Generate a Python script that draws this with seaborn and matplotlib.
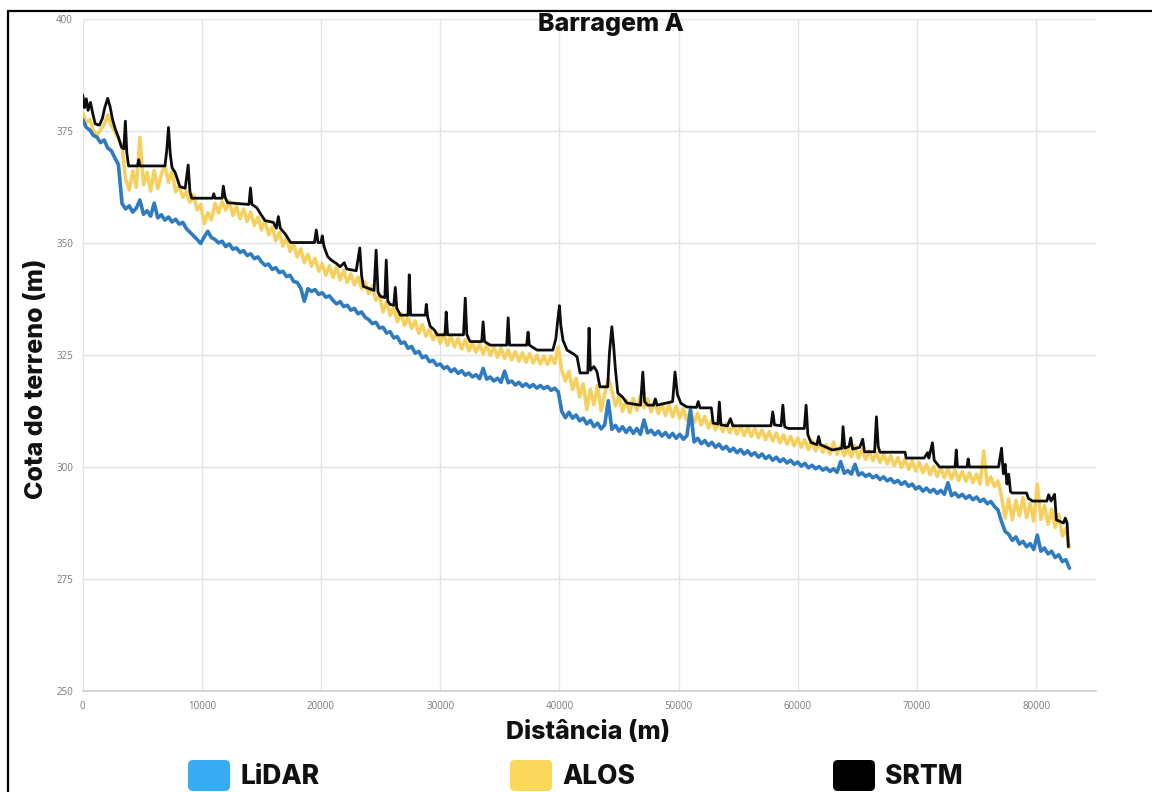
import numpy as np
import pandas as pd
import seaborn as sns
import matplotlib.pyplot as plt
from matplotlib.lines import Line2D
from matplotlib.patches import FancyBboxPatch
from matplotlib.transforms import IdentityTransform

# ---------------------------------------------------------------------------
# Elevation profiles along the reservoir (distance in m, elevation in m)
# LiDAR and ALOS are sampled every 300 m from 0 to 82 800 m
# ---------------------------------------------------------------------------
DIST_START, DIST_END, DIST_STEP = 0, 82800, 300

lidar = [
    377.5, 375.8, 375.2, 374.0, 373.6, 372.4, 373.0, 371.2, 370.6, 369.0,
    367.5, 358.8, 357.6, 358.3, 356.9, 357.8, 359.6, 356.4, 357.2, 356.0,
    358.9, 355.6, 356.3, 355.1, 355.8, 354.7, 355.3, 354.2, 354.6, 353.2,
    352.4, 351.6, 350.8, 349.9, 351.4, 352.6, 351.2, 350.8, 350.0, 350.4,
    349.2, 349.8, 348.6, 348.9, 347.9, 348.3, 347.2, 347.6, 346.5, 346.9,
    345.8, 345.0, 345.3, 344.1, 344.5, 343.4, 343.7, 342.5, 342.8, 341.4,
    341.2, 339.9, 337.0, 339.8, 339.2, 339.6, 338.5, 338.9, 337.9, 338.2,
    337.2, 336.4, 336.9, 335.8, 336.1, 335.0, 335.4, 334.2, 334.6, 333.4,
    332.9, 332.0, 332.3, 331.0, 331.2, 329.9, 330.2, 328.8, 329.1, 327.6,
    327.9, 326.5, 326.9, 325.4, 325.8, 324.4, 324.8, 323.5, 323.8, 322.7,
    323.0, 322.0, 322.4, 321.3, 321.9, 320.9, 321.5, 320.5, 321.0, 320.1,
    320.6, 319.7, 322.0, 319.6, 320.1, 319.2, 319.8, 318.9, 321.4, 318.8,
    319.2, 318.3, 318.9, 318.0, 318.6, 317.8, 318.4, 317.6, 318.2, 317.5,
    318.0, 317.1, 317.6, 316.8, 312.4, 311.0, 312.2, 310.9, 311.6, 310.3,
    310.9, 309.6, 310.4, 309.0, 309.8, 308.5, 309.4, 314.8, 308.4, 309.3,
    308.0, 309.0, 307.7, 308.8, 307.5, 308.6, 307.3, 310.5, 307.6, 308.2,
    307.2, 308.0, 306.9, 307.7, 306.6, 307.5, 306.4, 307.3, 306.2, 307.0,
    312.8, 305.6, 306.4, 305.2, 305.9, 304.8, 305.5, 304.4, 305.1, 304.0,
    304.6, 303.5, 304.2, 303.2, 303.9, 302.9, 303.6, 302.6, 303.2, 302.2,
    302.9, 301.9, 302.5, 301.5, 302.2, 301.2, 301.8, 300.9, 301.5, 300.6,
    301.1, 300.2, 300.8, 299.8, 300.4, 299.6, 300.1, 299.3, 299.8, 299.0,
    299.6, 298.8, 301.2, 298.6, 299.2, 298.4, 300.6, 298.2, 298.7, 297.9,
    298.4, 297.6, 298.1, 297.2, 297.8, 296.9, 297.4, 296.5, 297.0, 296.1,
    296.7, 295.7, 296.2, 295.1, 295.6, 294.6, 295.3, 294.4, 295.0, 294.1,
    294.8, 293.9, 296.5, 293.6, 294.2, 293.3, 293.9, 293.0, 293.6, 292.7,
    293.3, 292.3, 292.8, 291.8, 292.3, 291.2, 290.4, 287.8, 285.6, 285.0,
    283.6, 284.4, 282.8, 283.4, 282.2, 282.9, 281.6, 284.8, 281.2, 281.9,
    280.6, 281.2, 279.8, 280.4, 278.9, 279.3, 277.4,
]

alos = [
    379.2, 376.8, 377.6, 375.1, 374.0, 375.3, 376.4, 378.6, 376.2, 374.8,
    373.2, 371.5, 364.2, 361.8, 366.1, 362.4, 373.6, 363.0, 365.8, 361.6,
    366.2, 362.1, 365.4, 367.3, 363.5, 366.0, 361.4, 362.7, 360.2, 361.5,
    359.1, 360.8, 357.4, 358.6, 354.3, 356.8, 355.2, 358.9, 356.7, 359.2,
    357.3, 359.4, 356.1, 358.3, 355.4, 357.6, 354.8, 356.9, 353.9, 355.8,
    352.9, 355.1, 351.8, 353.6, 350.5, 352.4, 349.3, 351.2, 348.1, 349.9,
    346.9, 348.7, 345.6, 347.5, 344.8, 346.6, 343.7, 345.4, 342.8, 344.9,
    342.3, 344.6, 341.8, 343.9, 341.2, 343.1, 340.6, 342.4, 339.8, 341.3,
    338.7, 340.4, 337.2, 338.5, 334.6, 336.9, 333.8, 335.7, 332.4, 334.3,
    331.6, 333.5, 330.9, 332.6, 329.8, 331.8, 329.2, 330.7, 328.4, 330.1,
    327.6, 329.8, 327.1, 329.2, 326.8, 328.7, 326.3, 328.4, 325.9, 327.8,
    325.6, 327.5, 325.2, 327.3, 324.9, 326.8, 324.5, 326.6, 324.2, 326.1,
    323.9, 325.8, 323.6, 325.5, 323.4, 325.3, 323.2, 325.0, 323.0, 324.8,
    322.9, 324.7, 323.1, 326.8, 321.6, 319.2, 321.4, 317.3, 319.8, 315.6,
    318.6, 312.8, 317.4, 313.9, 318.2, 312.5, 316.3, 319.8, 317.1, 313.6,
    315.8, 312.4, 314.9, 312.1, 315.3, 312.6, 316.0, 313.2, 315.2, 312.3,
    314.8, 311.9, 314.2, 311.5, 313.9, 311.2, 313.6, 310.9, 313.1, 310.4,
    312.6, 309.9, 312.0, 309.4, 311.3, 308.7, 310.5, 308.3, 310.1, 307.9,
    309.8, 307.6, 309.5, 307.3, 309.2, 307.0, 308.9, 306.8, 308.6, 306.5,
    308.3, 306.1, 307.9, 305.8, 307.6, 305.4, 307.2, 305.1, 306.8, 304.7,
    306.5, 304.4, 306.1, 303.9, 305.8, 303.6, 305.4, 303.3, 305.0, 302.9,
    305.6, 302.8, 304.7, 302.5, 304.3, 302.2, 304.8, 302.0, 303.9, 301.7,
    303.6, 301.4, 303.2, 301.0, 302.9, 300.7, 302.5, 300.3, 302.1, 299.9,
    301.8, 299.5, 301.4, 299.1, 301.0, 298.7, 300.6, 298.3, 300.2, 297.9,
    299.9, 297.6, 299.6, 297.3, 299.3, 297.0, 299.0, 296.8, 298.7, 296.5,
    298.4, 296.2, 303.6, 296.0, 297.8, 295.6, 296.9, 293.4, 288.6, 292.9,
    288.2, 292.6, 289.1, 293.2, 288.7, 291.9, 287.9, 296.2, 288.3, 291.4,
    287.2, 290.6, 286.5, 289.4, 284.6, 286.3, 282.1,
]

# SRTM: stepped profile with narrow peaks, given as its own vertices
srtm_dist = [
    0, 150, 300, 450, 650, 850, 1050, 1400, 1650, 1850,
    2100, 2300, 2500, 2750, 3000, 3250, 3450, 3580, 3700, 3850,
    4600, 4700, 4800, 6900, 7050, 7200, 7350, 7500, 7750, 7950,
    8150, 8600, 8850, 9000, 9150, 10900, 11000, 11100, 11700, 11800,
    11950, 12150, 13950, 14080, 14200, 14600, 14900, 15300, 16000, 16250,
    16420, 16580, 17000, 17450, 19450, 19600, 19750, 20000, 20100, 20250,
    20550, 20850, 21300, 21600, 21950, 22150, 22950, 23250, 23400, 23550,
    24450, 24620, 24780, 24970, 25350, 25470, 25600, 25800, 26100, 26230,
    26350, 26650, 27300, 27400, 27520, 28750, 28830, 28950, 29160, 29500,
    29750, 30400, 30500, 30620, 31950, 32100, 32230, 32500, 33480, 33600,
    33720, 34200, 35580, 35700, 35820, 37250, 37370, 37480, 38130, 39450,
    39700, 39880, 40000, 40120, 40300, 40640, 41200, 41480, 41730, 42380,
    42490, 42600, 42900, 43150, 43400, 44050, 44200, 44400, 44550, 44700,
    44900, 45300, 45660, 46800, 47000, 47150, 47400, 47900, 48050, 48200,
    49500, 49700, 49900, 50200, 50700, 51500, 51650, 51800, 52750, 52900,
    53300, 53420, 53560, 54100, 54350, 54550, 57750, 57900, 58050, 58600,
    58750, 58900, 59200, 60550, 60700, 60850, 61100, 61600, 61750, 61900,
    62900, 63700, 63800, 63950, 64300, 64450, 64600, 65200, 65450, 65600,
    66450, 66600, 66750, 66900, 69000, 69100, 70600, 70900, 71000, 71300,
    71450, 71900, 73200, 73300, 73400, 74200, 74300, 74400, 76850, 77100,
    77250, 77400, 77550, 77700, 77850, 78000, 79200, 79350, 79700, 80900,
    81050, 81250, 81550, 81700, 82300, 82450, 82600, 82700,
]

srtm = [
    383.0, 380.2, 382.2, 379.6, 381.4, 378.8, 376.6, 376.3, 377.8, 380.2,
    382.3, 380.4, 377.6, 375.3, 373.6, 371.4, 371.0, 377.2, 370.2, 367.2,
    367.2, 368.6, 367.2, 367.2, 370.6, 375.8, 369.8, 366.8, 365.8, 364.2,
    362.6, 362.2, 367.4, 361.4, 360.0, 360.0, 361.0, 360.0, 360.0, 362.7,
    360.2, 359.0, 358.6, 362.3, 358.6, 357.9, 356.6, 355.0, 354.6, 353.3,
    355.9, 353.3, 352.0, 350.1, 350.1, 352.9, 350.1, 350.1, 351.6, 349.2,
    347.0, 346.2, 345.4, 344.7, 345.6, 344.2, 343.8, 348.9, 342.8, 340.3,
    339.4, 348.4, 339.0, 338.1, 337.8, 346.2, 337.0, 336.3, 336.1, 340.1,
    335.5, 333.9, 333.9, 342.9, 333.9, 333.9, 336.3, 333.4, 331.4, 330.6,
    329.5, 329.5, 334.6, 329.5, 329.5, 337.7, 329.6, 328.0, 328.0, 332.4,
    328.0, 327.2, 327.2, 333.3, 327.2, 327.2, 330.1, 327.2, 326.1, 326.1,
    328.6, 333.2, 336.0, 331.6, 328.3, 326.1, 325.2, 324.6, 321.0, 321.0,
    331.0, 321.6, 322.4, 321.3, 317.9, 317.9, 325.5, 331.3, 327.0, 321.8,
    316.5, 315.6, 314.3, 313.8, 321.2, 314.6, 313.8, 313.8, 315.2, 313.8,
    314.6, 321.2, 316.2, 314.2, 313.4, 313.3, 314.6, 313.2, 313.2, 309.8,
    309.6, 314.5, 309.4, 309.2, 310.8, 309.2, 309.2, 312.3, 309.4, 309.2,
    313.8, 309.0, 308.6, 308.6, 313.8, 307.2, 305.5, 305.0, 306.8, 305.0,
    303.8, 304.2, 309.0, 304.2, 304.6, 306.5, 304.0, 304.4, 306.2, 303.4,
    303.4, 311.2, 304.6, 303.3, 303.3, 302.0, 302.0, 303.2, 302.0, 305.4,
    301.5, 300.0, 300.0, 303.8, 300.0, 300.0, 301.8, 300.0, 300.0, 304.2,
    298.5, 300.6, 296.2, 298.4, 294.5, 294.2, 294.2, 293.0, 292.4, 292.4,
    293.8, 292.4, 293.9, 288.2, 287.5, 288.6, 287.5, 282.2,
]

x_ticks = [0, 10000, 20000, 30000, 40000, 50000, 60000, 70000, 80000]
y_ticks = [250, 275, 300, 325, 350, 375, 400]
series_names = ["LiDAR", "ALOS", "SRTM"]

line_colors = {"LiDAR": "#2f7bc1", "ALOS": "#f6cf5c", "SRTM": "#0d0d0d"}
legend_colors = {"LiDAR": "#39aaf4", "ALOS": "#fad85c", "SRTM": "#000000"}

distance = np.arange(DIST_START, DIST_END + 1, DIST_STEP)
profiles = pd.concat([
    pd.DataFrame({"dist": distance, "elev": lidar, "source": "LiDAR"}),
    pd.DataFrame({"dist": distance, "elev": alos, "source": "ALOS"}),
    pd.DataFrame({"dist": srtm_dist, "elev": srtm, "source": "SRTM"}),
], ignore_index=True)

# ---------------------------------------------------------------------------
sns.set_theme(style="whitegrid")
BOLD = ["Inter", "DejaVu Sans"]
plt.rcParams["font.family"] = ["Open Sans", "DejaVu Sans"]

W, H = 1152, 792
fig = plt.figure(figsize=(W / 100, H / 100), dpi=100)
fig.patch.set_facecolor("white")

ax_left, ax_right, ax_top, ax_bottom = 82.7, 1095.7, 19, 691
ax = fig.add_axes([ax_left / W, 1 - ax_bottom / H,
                   (ax_right - ax_left) / W, (ax_bottom - ax_top) / H])

line_widths = {"ALOS": 2.5, "LiDAR": 2.6, "SRTM": 2.0}
for name in ["ALOS", "LiDAR", "SRTM"]:
    sub = profiles[profiles["source"] == name]
    sns.lineplot(data=sub, x="dist", y="elev", ax=ax, color=line_colors[name],
                 linewidth=line_widths[name], estimator=None, sort=False,
                 legend=False)

ax.set_xlim(0, 85000)
ax.set_ylim(250, 400)
ax.set_xticks(x_ticks)
ax.set_yticks(y_ticks)
ax.set_xticklabels([str(v) for v in x_ticks])
ax.set_yticklabels([str(v) for v in y_ticks])
ax.tick_params(axis="both", length=0, labelsize=7, labelcolor="#7a7a7a", pad=7)
ax.grid(True, color="#e4e4e4", linewidth=1.0)
ax.set_facecolor("white")
for side in ["top", "right", "left"]:
    ax.spines[side].set_visible(False)
ax.spines["bottom"].set_color("#cfcfcf")
ax.spines["bottom"].set_linewidth(1.2)
ax.set_xlabel("")
ax.set_ylabel("")

# Title and axis titles
title_kw = dict(fontweight="heavy", family=BOLD, color="#111111")
fig.text(611 / W, 1 - 24 / H, "Barragem A", ha="center", va="center",
         fontsize=18, **title_kw)
fig.text(588 / W, 1 - 732 / H, "Distância (m)", ha="center", va="center",
         fontsize=18, **title_kw)
fig.text(37 / W, 1 - 379 / H, "Cota do terreno (m)", ha="center", va="center",
         rotation=90, fontsize=18, **title_kw)

# Legend along the bottom edge
legend_boxes = {"LiDAR": 188, "ALOS": 510, "SRTM": 833}
for name in series_names:
    x0 = legend_boxes[name]
    box = FancyBboxPatch((x0 + 5, H - 791 + 5), 42 - 10, 31 - 10,
                         boxstyle="round,pad=5", transform=IdentityTransform(),
                         facecolor=legend_colors[name], edgecolor="none")
    fig.add_artist(box)
    fig.text((x0 + 52) / W, 1 - 777 / H, name, ha="left", va="center",
             fontsize=19, **title_kw)

# Outer frame
frame_kw = dict(transform=IdentityTransform(), color="black", linewidth=1.6)
fig.add_artist(Line2D([8, 8], [-5, H - 11], **frame_kw))
fig.add_artist(Line2D([8, W + 5], [H - 11, H - 11], **frame_kw))

fig.savefig("out.png", dpi=100, facecolor="white")
